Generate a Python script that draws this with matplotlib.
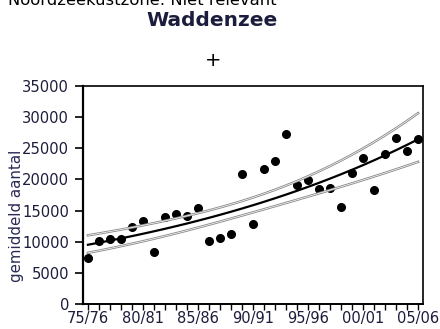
import numpy as np
import matplotlib.pyplot as plt

# wintergemiddelden per seizoen, Waddenzee
seizoenen = ['75/76', '76/77', '77/78', '78/79', '79/80', '80/81', '81/82', '82/83',
             '83/84', '84/85', '85/86', '86/87', '87/88', '88/89', '89/90', '90/91',
             '91/92', '92/93', '93/94', '94/95', '95/96', '96/97', '97/98', '98/99',
             '99/00', '00/01', '01/02', '02/03', '03/04', '04/05', '05/06']
aantal = [7400, 10100, 10500, 10400, 12400, 13300, 8300, 13900, 14400, 14100,
          15400, 10100, 10600, 11200, 20800, 12900, 21600, 22900, 27300, 19100,
          19900, 18500, 18600, 15500, 21000, 23400, 18300, 24100, 26700, 24600,
          26500]
yticks = [0, 5000, 10000, 15000, 20000, 25000, 30000, 35000]

x = np.arange(len(aantal))
y = np.array(aantal, dtype=float)

# log-lineaire trend met 95%-betrouwbaarheidsband
logy = np.log(y)
b, a = np.polyfit(x, logy, 1)
fit = a + b * x
res = logy - fit
n = len(x)
s = np.sqrt(np.sum(res ** 2) / (n - 2))
se = s * np.sqrt(1 / n + (x - x.mean()) ** 2 / np.sum((x - x.mean()) ** 2))
t = 2.045
trend = np.exp(fit)
lo = np.exp(fit - t * se)
hi = np.exp(fit + t * se)

txtc = '#1c1c3c'
fig = plt.figure(figsize=(4.4, 3.29), dpi=100)
ax = fig.add_axes([0.1886, 0.076, 0.7728, 0.6626])

ax.plot(x, y, 'o', color='black', ms=5.5, zorder=2)
for band in (lo, hi):
    ax.plot(x, band, color='#8c8c8c', lw=1.8, zorder=3)
    ax.plot(x, band, color='white', lw=0.5, zorder=3)
ax.plot(x, trend, color='black', lw=1.6, zorder=4)

ax.set_xlim(-0.45, 30.45)
ax.set_ylim(0, 35000)
ax.set_yticks(yticks)
ax.set_yticklabels([str(v) for v in yticks], color=txtc, fontsize=10.6)
ax.set_xticks(x)
ax.set_xticklabels([s if i % 5 == 0 else '' for i, s in enumerate(seizoenen)],
                   color=txtc, fontsize=10.5)
ax.tick_params(axis='y', direction='out', length=6, width=1.2, pad=4)
ax.tick_params(axis='x', direction='out', length=4, width=1.0, pad=1)
ax.spines['left'].set_linewidth(1.6)
ax.spines['bottom'].set_linewidth(1.4)
ax.spines['top'].set_linewidth(1.2)
ax.spines['right'].set_linewidth(1.2)

fig.text(8 / 440, 1 - 5 / 329, 'Noordzeekustzone: Niet relevant', fontsize=11.8,
         va='baseline', ha='left', color='black')
fig.text(212 / 440, 1 - 21 / 329, 'Waddenzee', fontsize=14.5, weight='bold',
         ha='center', va='center', color=txtc)
fig.text(213 / 440, 1 - 60 / 329, '+', fontsize=14, ha='center', va='center',
         color='black')
fig.text(17 / 440, 1 - 216 / 329, 'gemiddeld aantal', fontsize=10.8, rotation=90,
         ha='center', va='center', color='#2a2a55')

fig.savefig('out.png', dpi=100)
